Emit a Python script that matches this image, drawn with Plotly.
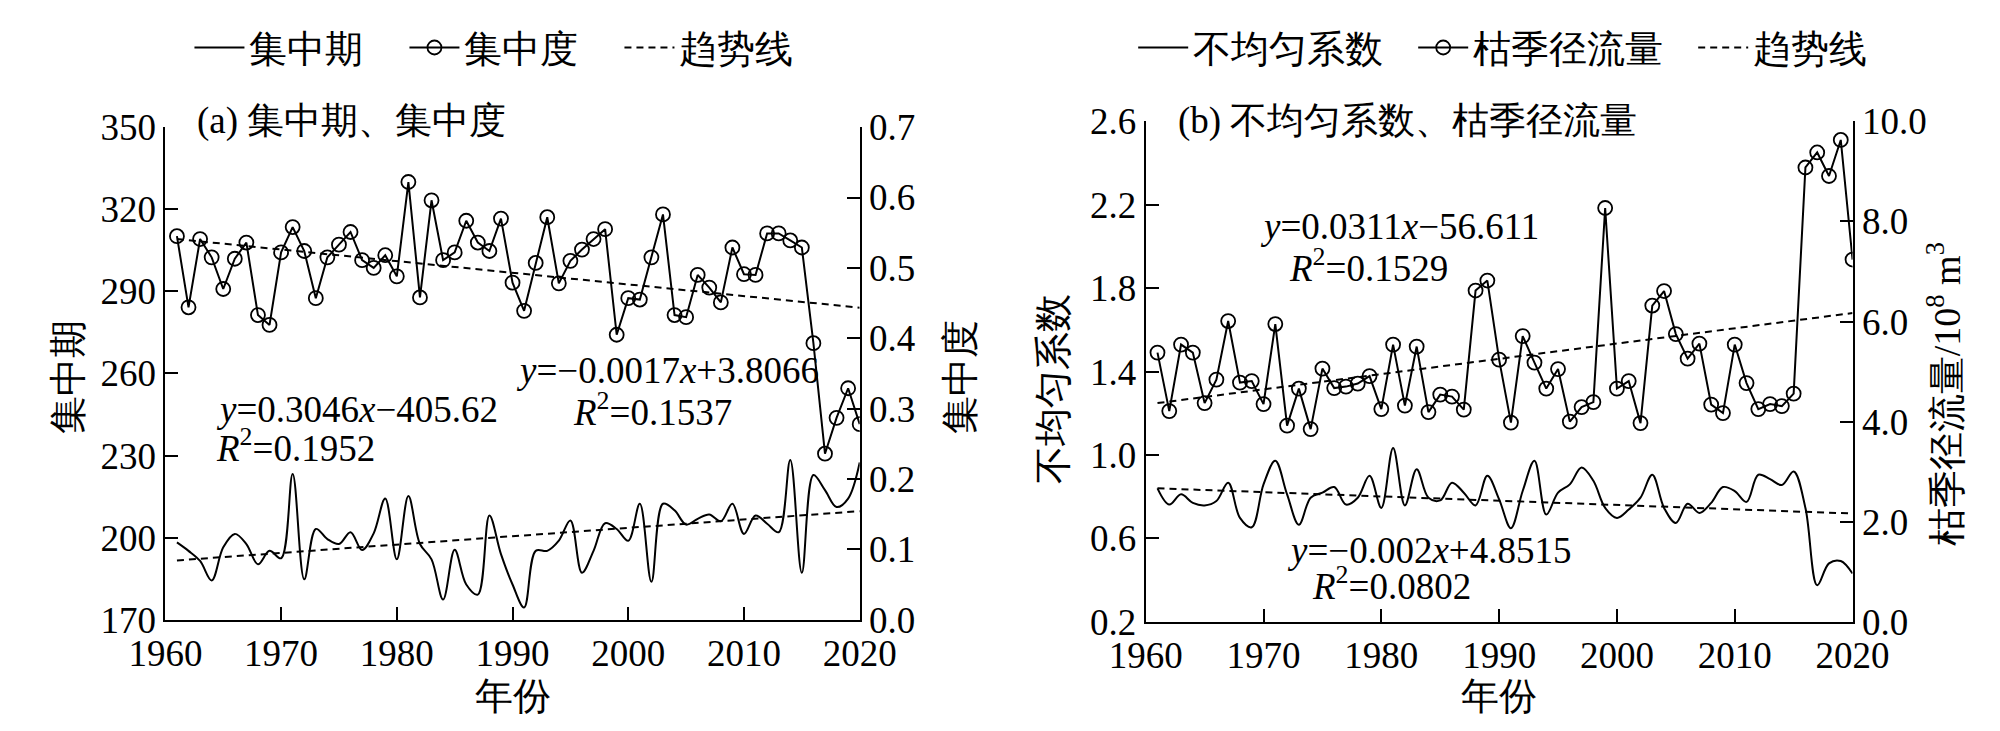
import plotly.graph_objects as go

years = list(range(1961, 2021))

# (a) 集中期 (left axis) and 集中度 (right axis)
jzq = [198.3, 195.2, 191.5, 184.4, 196.5, 201.4, 197.7, 190.3, 195.2, 192.5,
       223.3, 184.8, 203.2, 199.5, 197.7, 202.0, 195.5, 201.6, 214.3, 192.1,
       215.2, 197.7, 192.1, 177.4, 195.6, 182.9, 179.2, 208.1, 194.0, 182.9,
       174.5, 195.2, 195.2, 198.9, 206.3, 187.2, 195.2, 205.3, 203.2, 198.9,
       212.4, 183.9, 212.4, 210.0, 204.8, 206.9, 208.5, 206.0, 212.4, 201.4,
       208.1, 205.1, 202.0, 228.4, 187.2, 222.9, 217.4, 211.2, 214.3, 227.5]
jzd = [0.545, 0.444, 0.541, 0.515, 0.470, 0.513, 0.536, 0.433, 0.419, 0.522,
       0.558, 0.524, 0.457, 0.515, 0.533, 0.551, 0.511, 0.500, 0.518, 0.488,
       0.622, 0.458, 0.596, 0.511, 0.522, 0.567, 0.536, 0.524, 0.570, 0.479,
       0.439, 0.507, 0.572, 0.478, 0.510, 0.526, 0.541, 0.555, 0.405, 0.457,
       0.455, 0.515, 0.576, 0.433, 0.430, 0.490, 0.472, 0.451, 0.529, 0.491,
       0.490, 0.549, 0.549, 0.539, 0.529, 0.393, 0.236, 0.287, 0.329, 0.278]
trend_years = [1961, 2020]
jzq_trend = [191.7, 209.7]
jzd_trend = [0.541, 0.4435]

# (b) 不均匀系数 (left axis) and 枯季径流量 (right axis)
bjy = [0.840, 0.762, 0.811, 0.770, 0.758, 0.779, 0.867, 0.698, 0.653, 0.859,
       0.972, 0.811, 0.665, 0.795, 0.819, 0.846, 0.762, 0.795, 0.900, 0.746,
       1.034, 0.758, 0.932, 0.795, 0.782, 0.867, 0.819, 0.758, 0.900, 0.787,
       0.649, 0.827, 0.972, 0.714, 0.819, 0.859, 0.940, 0.876, 0.746, 0.698,
       0.738, 0.795, 0.905, 0.746, 0.674, 0.766, 0.722, 0.770, 0.846, 0.827,
       0.775, 0.905, 0.884, 0.856, 0.921, 0.746, 0.375, 0.480, 0.491, 0.431]
kjl = [5.38, 4.21, 5.54, 5.38, 4.37, 4.84, 6.01, 4.78, 4.81, 4.35,
       5.95, 3.92, 4.66, 3.85, 5.06, 4.67, 4.70, 4.76, 4.91, 4.25,
       5.54, 4.32, 5.50, 4.19, 4.54, 4.50, 4.24, 6.62, 6.82, 5.24,
       3.98, 5.71, 5.18, 4.66, 5.05, 4.00, 4.29, 4.39, 8.27, 4.66,
       4.81, 3.97, 6.32, 6.61, 5.75, 5.26, 5.56, 4.34, 4.17, 5.54,
       4.77, 4.25, 4.35, 4.31, 4.56, 9.08, 9.38, 8.91, 9.63, 7.24]
bjy_trend = [0.840, 0.719]
kjl_trend = [4.37, 6.17]

FONT = "Times New Roman, Liberation Serif, DejaVu Serif, serif"
W, H = 2000, 731
DASH = "7px,5px"

fig = go.Figure()

# panel a
fig.add_trace(go.Scatter(x=years, y=jzq, name="集中期", mode="lines",
                         line=dict(color="black", width=2, shape="spline", smoothing=1.0),
                         xaxis="x", yaxis="y", legend="legend"))
fig.add_trace(go.Scatter(x=years, y=jzd, name="集中度", mode="lines+markers",
                         line=dict(color="black", width=2),
                         marker=dict(symbol="circle-open", size=14, color="black", line=dict(width=1.8)),
                         xaxis="x", yaxis="y2", legend="legend"))
fig.add_trace(go.Scatter(x=trend_years, y=jzq_trend, name="趋势线", mode="lines",
                         line=dict(color="black", width=2, dash=DASH),
                         xaxis="x", yaxis="y", legend="legend"))
fig.add_trace(go.Scatter(x=trend_years, y=jzd_trend, name="趋势线", mode="lines",
                         line=dict(color="black", width=2, dash=DASH), showlegend=False,
                         xaxis="x", yaxis="y2", legend="legend"))

# panel b
fig.add_trace(go.Scatter(x=years, y=bjy, name="不均匀系数", mode="lines",
                         line=dict(color="black", width=2, shape="spline", smoothing=1.0),
                         xaxis="x2", yaxis="y3", legend="legend2"))
fig.add_trace(go.Scatter(x=years, y=kjl, name="枯季径流量", mode="lines+markers",
                         line=dict(color="black", width=2),
                         marker=dict(symbol="circle-open", size=14, color="black", line=dict(width=1.8)),
                         xaxis="x2", yaxis="y4", legend="legend2"))
fig.add_trace(go.Scatter(x=trend_years, y=bjy_trend, name="趋势线", mode="lines",
                         line=dict(color="black", width=2, dash=DASH), showlegend=False,
                         xaxis="x2", yaxis="y3", legend="legend2"))
fig.add_trace(go.Scatter(x=trend_years, y=kjl_trend, name="趋势线", mode="lines",
                         line=dict(color="black", width=2, dash=DASH),
                         xaxis="x2", yaxis="y4", legend="legend2"))

ax = dict(showgrid=False, zeroline=False, showline=True, linecolor="black", linewidth=2,
          ticks="inside", ticklen=13, tickwidth=2, tickcolor="black",
          tickfont=dict(family=FONT, size=37, color="black"))
xax = dict(ax, range=[1960, 2020], tick0=1960, dtick=10)

fig.update_layout(
    width=W, height=H,
    margin=dict(l=0, r=0, t=0, b=0),
    paper_bgcolor="white", plot_bgcolor="white",
    font=dict(family=FONT, size=37, color="black"),
    xaxis=dict(xax, domain=[125 / W, 846 / W], anchor="y"),
    yaxis=dict(ax, domain=[1 - 627 / H, 1 - 105 / H], anchor="x", range=[170, 350],
               tick0=170, dtick=30),
    yaxis2=dict(ax, overlaying="y", side="right", anchor="x", range=[0, 0.7], dtick=0.1,
                tickformat=".1f"),
    xaxis2=dict(xax, domain=[1143 / W, 1877 / W], anchor="y3"),
    yaxis3=dict(ax, domain=[1 - 629 / H, 1 - 99 / H], anchor="x2", range=[0.2, 2.6],
                tick0=0.2, dtick=0.4, tickformat=".1f"),
    yaxis4=dict(ax, overlaying="y3", side="right", anchor="x2", range=[0, 10], dtick=2,
                tickformat=".1f"),
    legend=dict(orientation="h", x=150 / W, xanchor="left", y=1 - 21 / H, yanchor="middle",
                font=dict(family=FONT, size=38), itemwidth=50, entrywidth=150,
                bgcolor="rgba(0,0,0,0)"),
    legend2=dict(orientation="h", x=1130 / W, xanchor="left", y=1 - 21 / H, yanchor="middle",
                 font=dict(family=FONT, size=38), itemwidth=50, entrywidth=215,
                 bgcolor="rgba(0,0,0,0)"),
    showlegend=True,
)


def note(text, px, py, xanchor="left", angle=0, size=37):
    fig.add_annotation(text=text, x=px / W, y=1 - py / H, xref="paper", yref="paper",
                       xanchor=xanchor, yanchor="middle", showarrow=False, textangle=angle,
                       font=dict(family=FONT, size=size, color="black"))


# panel titles
note("(a) 集中期、集中度", 156, 98)
note("(b) 不均匀系数、枯季径流量", 1174, 99)

# regression equations
note("<i>y</i>=0.3046<i>x</i>−405.62", 176, 404)
note("<i>R</i><sup>2</sup>=0.1952", 176, 442)
note("<i>y</i>=−0.0017<i>x</i>+3.8066", 806, 363, xanchor="right")
note("<i>R</i><sup>2</sup>=0.1537", 546, 404)
note("<i>y</i>=0.0311<i>x</i>−56.611", 1260, 210)
note("<i>R</i><sup>2</sup>=0.1529", 1290, 252)
note("<i>y</i>=−0.002<i>x</i>+4.8515", 1288, 554)
note("<i>R</i><sup>2</sup>=0.0802", 1314, 588)

# axis titles
note("集中期", 24, 370, xanchor="center", angle=-90, size=38)
note("集中度", 950, 370, xanchor="center", angle=-90, size=38)
note("不均匀系数", 1046, 382, xanchor="center", angle=-90, size=38)
note("枯季径流量/10<sup>8</sup> m<sup>3</sup>", 1972, 388, xanchor="center", angle=-90, size=38)
note("年份", 486, 708, xanchor="center", size=38)
note("年份", 1510, 708, xanchor="center", size=38)

fig.write_html("out.html")
